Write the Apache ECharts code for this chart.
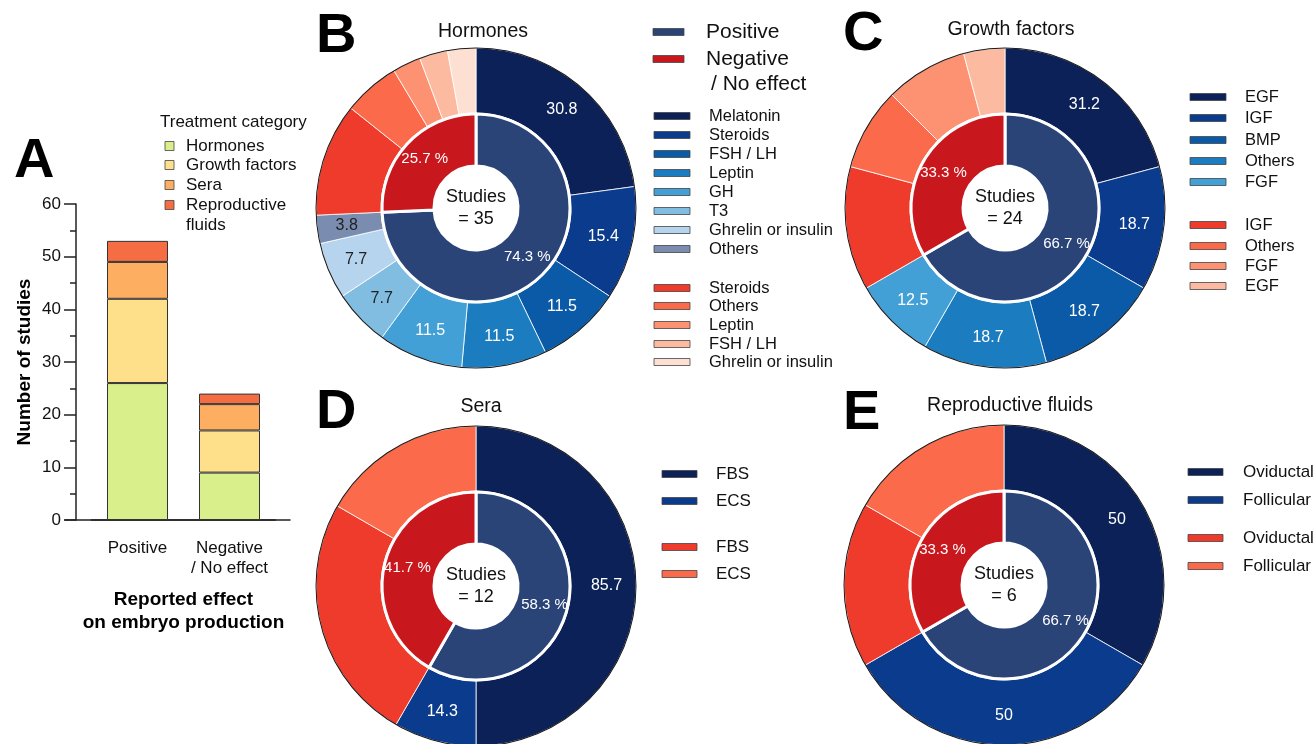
<!DOCTYPE html>
<html>
<head>
<meta charset="utf-8">
<script src="https://cdn.jsdelivr.net/npm/echarts@6/dist/echarts.min.js"></script>
<style>
  html, body { margin: 0; padding: 0; background: #fff; }
  #main { width: 1315px; height: 744px; }
</style>
</head>
<body>
<div id="main"></div>
<script>
var FONT = 'Liberation Sans, Arial, sans-serif'

// panel A : stacked bars
var barCategories = ['Positive', 'Negative\n/ No effect']
var treatmentNames = ['Hormones', 'Growth factors', 'Sera', 'Reproductive\nfluids']
var hormonesStudies = [26, 9]
var growthStudies = [16, 8]
var seraStudies = [7, 5]
var fluidsStudies = [4, 2]
var yTicks = [0, 10, 20, 30, 40, 50, 60]

// panel B : hormones
var hormPosNames = ['Melatonin', 'Steroids', 'FSH / LH', 'Leptin', 'GH', 'T3', 'Ghrelin or insulin', 'Others']
var hormPosCounts = [8, 4, 3, 3, 3, 2, 2, 1]
var hormPosLabels = ['30.8', '15.4', '11.5', '11.5', '11.5', '7.7', '7.7', '3.8']
var hormNegNames = ['Steroids', 'Others', 'Leptin', 'FSH / LH', 'Ghrelin or insulin']
var hormNegCounts = [4, 2, 1, 1, 1]

// panel C : growth factors
var gfPosNames = ['EGF', 'IGF', 'BMP', 'Others', 'FGF']
var gfPosCounts = [5, 3, 3, 3, 2]
var gfPosLabels = ['31.2', '18.7', '18.7', '18.7', '12.5']
var gfNegNames = ['IGF', 'Others', 'FGF', 'EGF']
var gfNegCounts = [3, 2, 2, 1]

// panel D : sera
var seraPosNames = ['FBS', 'ECS']
var seraPosCounts = [6, 1]
var seraPosLabels = ['85.7', '14.3']
var seraNegNames = ['FBS', 'ECS']
var seraNegCounts = [3, 2]

// panel E : reproductive fluids
var fluidPosNames = ['Oviductal', 'Follicular']
var fluidPosCounts = [2, 2]
var fluidPosLabels = ['50', '50']
var fluidNegNames = ['Oviductal', 'Follicular']
var fluidNegCounts = [1, 1]

var barColors = ['#d9ef8b', '#fee08b', '#fdae61', '#f46d43']
var posColor = '#2b4478'
var negColor = '#c9171e'
var blues = ['#0b2158', '#0a3b8c', '#0b5aa8', '#1b7dc0', '#43a0d6', '#80bde0', '#b7d4ef', '#7a8db0']
var blueText = ['#fff', '#fff', '#fff', '#fff', '#fff', '#222', '#222', '#222']
var reds = ['#ef3b2c', '#fb6a4a', '#fc9272', '#fcbba1', '#fee0d2']

function sum(a) {
	return a.reduce(function (s, v) { return s + v }, 0)
}

var graphics = []
function txt(x, y, text, size, opts) {
	opts = opts || {}
	graphics.push({
		type: 'text',
		x: x,
		y: y,
		silent: true,
		style: {
			text: text,
			font: (opts.weight || 'normal') + ' ' + size + 'px ' + FONT,
			fill: opts.color || '#111',
			textAlign: opts.align || 'left',
			textVerticalAlign: opts.valign || 'middle',
			lineHeight: opts.lineHeight || size * 1.2,
		},
	})
}
function patch(x, y, w, h, color) {
	graphics.push({
		type: 'rect',
		silent: true,
		shape: { x: x, y: y - h / 2, width: w, height: h },
		style: { fill: color, stroke: '#444', lineWidth: 0.8 },
	})
}

var series = []

function ringPanel(cx, cy, posCounts, negCounts, posNames, negNames, posLabels) {
	var pos = sum(posCounts)
	var neg = sum(negCounts)
	var total = pos + neg
	series.push({
		type: 'pie',
		center: [cx, cy],
		radius: [95, 160],
		startAngle: 90,
		silent: true,
		animation: false,
		avoidLabelOverlap: false,
		labelLine: { show: false },
		itemStyle: { borderColor: '#fff', borderWidth: 0.8 },
		data: posCounts
			.map(function (v, i) {
				return {
					value: v,
					name: posNames[i],
					itemStyle: { color: blues[i] },
					label: {
						show: true,
						position: 'inside',
						formatter: posLabels[i],
						color: blueText[i],
						fontSize: 16,
						fontFamily: FONT,
					},
				}
			})
			.concat(
				negCounts.map(function (v, i) {
					return { value: v, name: negNames[i], itemStyle: { color: reds[i] }, label: { show: false } }
				})
			),
	})
	series.push({
		type: 'pie',
		center: [cx, cy],
		radius: [159.5, 160.5],
		silent: true,
		animation: false,
		label: { show: false },
		labelLine: { show: false },
		itemStyle: { color: '#1a1a1a' },
		data: [{ value: 1, name: 'edge' }],
	})
	series.push({
		type: 'pie',
		center: [cx, cy],
		radius: [42, 94],
		startAngle: 90,
		silent: true,
		animation: false,
		avoidLabelOverlap: false,
		labelLine: { show: false },
		itemStyle: { borderColor: '#fff', borderWidth: 3 },
		label: {
			show: true,
			position: 'inside',
			color: '#fff',
			fontSize: 15,
			fontFamily: FONT,
			formatter: function (p) {
				return ((p.value / total) * 100).toFixed(1) + ' %'
			},
		},
		data: [
			{ value: pos, name: 'Positive', itemStyle: { color: posColor } },
			{ value: neg, name: 'Negative', itemStyle: { color: negColor } },
		],
	})
	txt(cx, cy, 'Studies\n= ' + total, 18, { align: 'center', lineHeight: 22 })
}

ringPanel(476, 208, hormPosCounts, hormNegCounts, hormPosNames, hormNegNames, hormPosLabels)
ringPanel(1005, 208, gfPosCounts, gfNegCounts, gfPosNames, gfNegNames, gfPosLabels)
ringPanel(476, 586, seraPosCounts, seraNegCounts, seraPosNames, seraNegNames, seraPosLabels)
ringPanel(1004, 585, fluidPosCounts, fluidNegCounts, fluidPosNames, fluidNegNames, fluidPosLabels)

function pieLegend(px, tx, w, yPos, yNeg, posNames, negNames, size) {
	posNames.forEach(function (n, i) {
		patch(px, yPos[i], w, 7, blues[i])
		txt(tx, yPos[i], n, size)
	})
	negNames.forEach(function (n, i) {
		patch(px, yNeg[i], w, 7, reds[i])
		txt(tx, yNeg[i], n, size)
	})
}

// panel letters and titles
txt(14, 162, 'A', 56, { weight: 'bold', color: '#000' })
txt(316, 37, 'B', 56, { weight: 'bold', color: '#000' })
txt(843, 35, 'C', 56, { weight: 'bold', color: '#000' })
txt(316, 413, 'D', 56, { weight: 'bold', color: '#000' })
txt(843, 414, 'E', 56, { weight: 'bold', color: '#000' })
txt(483, 32, 'Hormones', 19.5, { align: 'center' })
txt(1011, 30, 'Growth factors', 19.5, { align: 'center' })
txt(481, 407, 'Sera', 19.5, { align: 'center' })
txt(1010, 406, 'Reproductive fluids', 19.5, { align: 'center' })

// legend for A
txt(160, 122, 'Treatment category', 17)
var aLegendY = [146, 165, 185, 205]
treatmentNames.forEach(function (n, i) {
	graphics.push({
		type: 'rect',
		silent: true,
		shape: { x: 165, y: aLegendY[i] - 4.5, width: 9, height: 9 },
		style: { fill: barColors[i], stroke: '#444', lineWidth: 0.8 },
	})
	txt(186, aLegendY[i] - 10, n, 17, { valign: 'top', lineHeight: 20 })
})

// Positive / Negative key
patch(653, 32, 31, 7, posColor)
patch(653, 59, 31, 7, negColor)
txt(706, 32, 'Positive', 21)
txt(706, 59, 'Negative', 21)
txt(711, 84, '/ No effect', 21)

pieLegend(654, 709, 36, [116, 135, 154, 173, 192, 211, 230, 249], [288, 306, 325, 344, 362], hormPosNames, hormNegNames, 16.5)
pieLegend(1190, 1245, 36, [97, 118, 140, 161, 182], [225, 246, 266, 286], gfPosNames, gfNegNames, 16.5)
pieLegend(662, 716, 35, [474, 501], [547, 574], seraPosNames, seraNegNames, 17)
pieLegend(1188, 1243, 35, [472, 500], [538, 566], fluidPosNames, fluidNegNames, 17)

var barData = [hormonesStudies, growthStudies, seraStudies, fluidsStudies]
barData.forEach(function (d, i) {
	series.push({
		type: 'bar',
		name: treatmentNames[i],
		xAxisIndex: 0,
		yAxisIndex: 0,
		stack: 'effect',
		barWidth: 61,
		silent: true,
		animation: false,
		itemStyle: { color: barColors[i], borderColor: '#333', borderWidth: 1 },
		data: d,
	})
})

var chart = echarts.init(document.getElementById('main'))
chart.setOption({
	backgroundColor: '#fff',
	textStyle: { fontFamily: FONT },
	grid: [
		{ left: 91.5, width: 184, top: 204, height: 316 },
		{ left: 65, width: 225, top: 519, height: 1 },
	],
	xAxis: [
		{
			type: 'category',
			gridIndex: 0,
			data: barCategories,
			axisLine: { lineStyle: { color: '#222', width: 1.5 } },
			axisTick: { alignWithLabel: true, length: 10, lineStyle: { color: '#222', width: 1.5 } },
			axisLabel: { interval: 0, hideOverlap: false, fontSize: 17, color: '#111', margin: 18, lineHeight: 20, verticalAlign: 'top' },
			name: 'Reported effect\non embryo production',
			nameLocation: 'middle',
			nameGap: 68,
			nameTextStyle: { fontSize: 19, fontWeight: 'bold', color: '#000', lineHeight: 23 },
		},
		{
			type: 'value',
			gridIndex: 1,
			axisLine: { show: true, lineStyle: { color: '#222', width: 1.5 } },
			axisTick: { show: false },
			axisLabel: { show: false },
			splitLine: { show: false },
		},
	],
	yAxis: [
		{
			type: 'value',
			gridIndex: 0,
			min: yTicks[0],
			max: yTicks[yTicks.length - 1],
			interval: 10,
			offset: 15.5,
			axisLine: { show: true, lineStyle: { color: '#222', width: 1.5 } },
			axisTick: { show: true, length: 12, lineStyle: { color: '#222', width: 1.5 } },
			minorTick: { show: true, splitNumber: 2, length: 6, lineStyle: { color: '#222', width: 1.5 } },
			splitLine: { show: false },
			axisLabel: { fontSize: 17, color: '#111', margin: 15 },
			name: 'Number of studies',
			nameLocation: 'middle',
			nameGap: 42,
			nameTextStyle: { fontSize: 19, fontWeight: 'bold', color: '#000' },
		},
		{ type: 'value', gridIndex: 1, show: false },
	],
	series: series,
	graphic: graphics,
})
</script>
</body>
</html>
